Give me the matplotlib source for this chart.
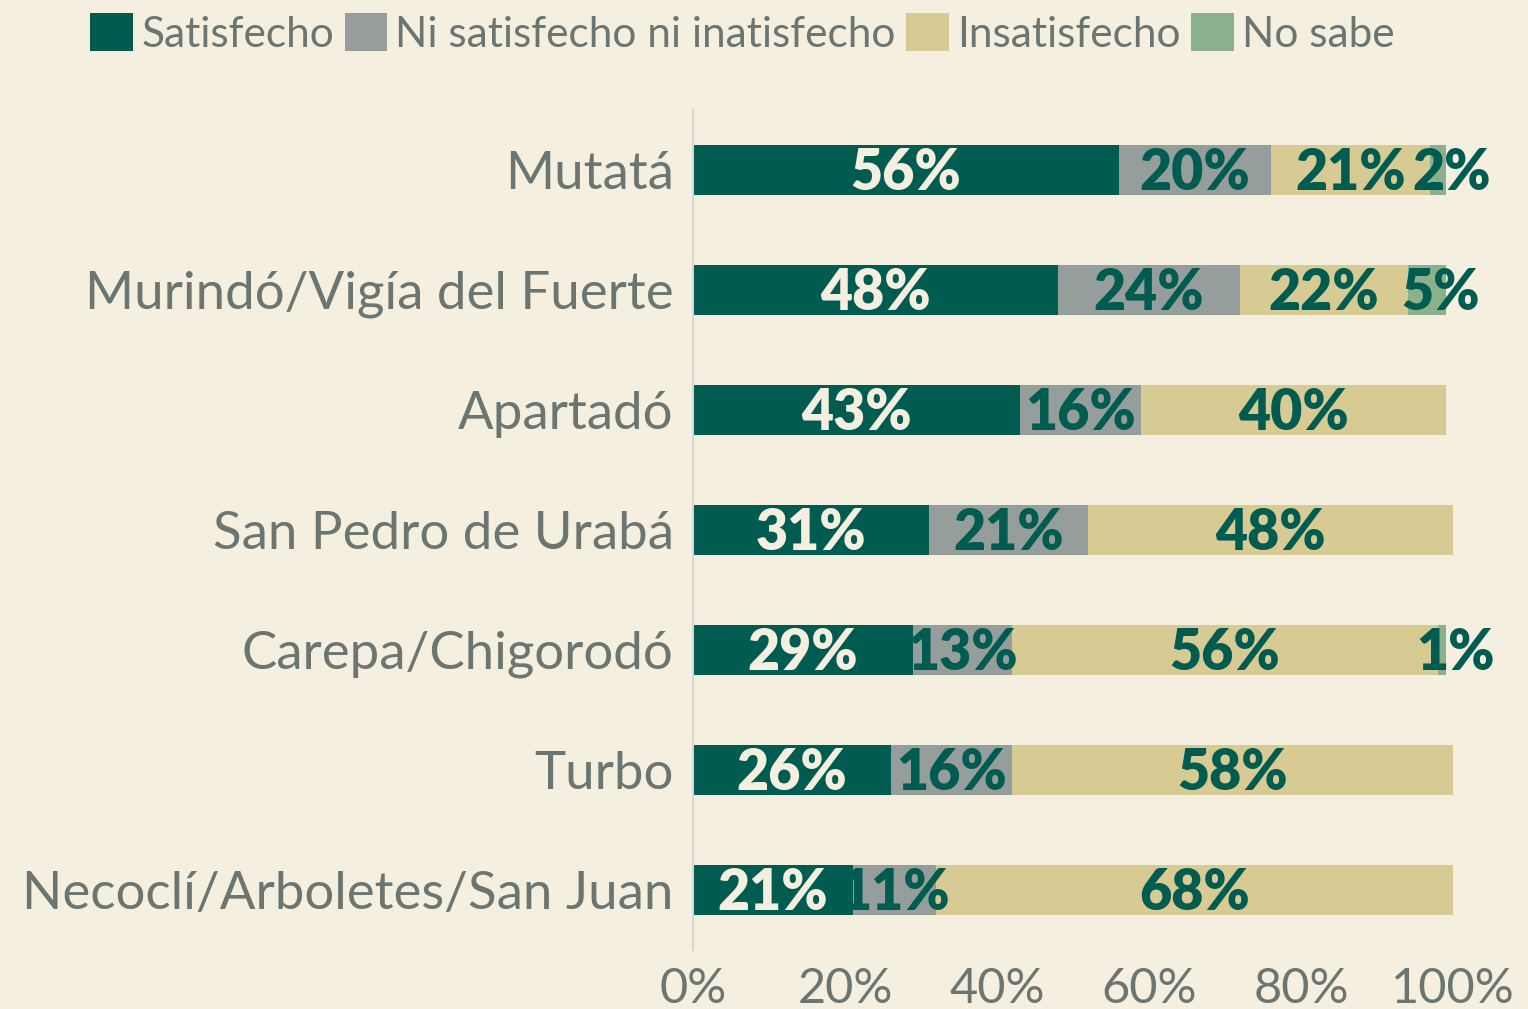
import matplotlib.pyplot as plt
from matplotlib.patches import Patch

plt.rcParams['font.family'] = ['Lato', 'DejaVu Sans']

# datos
municipios = ['Mutatá', 'Murindó/Vigía del Fuerte', 'Apartadó', 'San Pedro de Urabá',
              'Carepa/Chigorodó', 'Turbo', 'Necoclí/Arboletes/San Juan']
satisfecho = [56, 48, 43, 31, 29, 26, 21]
ni_ni = [20, 24, 16, 21, 13, 16, 11]
insatisfecho = [21, 22, 40, 48, 56, 58, 68]
no_sabe = [2, 5, 0, 0, 1, 0, 0]
series_names = ['Satisfecho', 'Ni satisfecho ni inatisfecho', 'Insatisfecho', 'No sabe']
xticks = [0, 20, 40, 60, 80, 100]

bg = '#F5EFE0'
colores = ['#005C50', '#969E9B', '#D8CA93', '#8AB08C']
txt_gris = '#6B7672'
verde = '#005C50'

fig = plt.figure(figsize=(15.28, 10.09), dpi=100, facecolor=bg)
ax = fig.add_axes([0.4535, 0.0585, 0.4975, 0.8325], facecolor=bg)

y = list(range(len(municipios)))
series = [satisfecho, ni_ni, insatisfecho, no_sabe]
left = [0] * len(municipios)
for k, vals in enumerate(series):
    ax.barh(y, vals, left=left, height=0.41, color=colores[k], edgecolor='none')
    for i, v in enumerate(vals):
        if v == 0:
            continue
        dx = 10 if k == 3 else 0
        col = bg if k == 0 else verde
        ax.annotate(f'{v}%', (left[i] + v / 2, y[i]), xytext=(dx, -2),
                    textcoords='offset points', ha='center', va='center',
                    fontsize=40, fontweight='heavy', color=col, annotation_clip=False)
    left = [a + b for a, b in zip(left, vals)]

ax.set_ylim(len(municipios) - 0.5, -0.5)
ax.set_xlim(0, 100)
ax.set_yticks(y)
ax.set_yticklabels(municipios, fontsize=38, color=txt_gris)
ax.set_xticks(xticks)
ax.set_xticklabels([f'{t}%' for t in xticks], fontsize=35, color=txt_gris)
ax.tick_params(length=0)
ax.tick_params(axis='y', pad=14)
ax.tick_params(axis='x', pad=12)
for s in ['top', 'right', 'bottom']:
    ax.spines[s].set_visible(False)
ax.spines['left'].set_color('#D6D6D6')
ax.spines['left'].set_linewidth(1.5)

handles = [Patch(facecolor=c, edgecolor='none') for c in colores]
fig.legend(handles, series_names, loc='center', bbox_to_anchor=(0.486, 0.967), ncol=4,
           frameon=False, fontsize=30.5, labelcolor=txt_gris, handlelength=1.0,
           handleheight=1.0, handletextpad=0.2, columnspacing=0.25, borderaxespad=0)

fig.savefig('out.png', dpi=100, facecolor=bg)
